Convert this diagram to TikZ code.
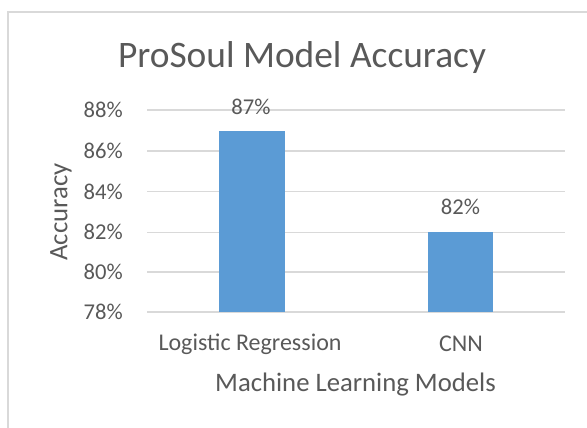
\documentclass[tikz,border=0pt]{standalone}
\usepackage{fontspec}
\setmainfont{Carlito}
\usetikzlibrary{positioning}
\definecolor{gridgray}{HTML}{D9D9D9}
\definecolor{textgray}{HTML}{595959}
\definecolor{barblue}{HTML}{5B9BD5}

\begin{document}
\begin{tikzpicture}[x=1pt,y=-1pt,
  every node/.append style={text=textgray,inner sep=0pt},
  font=\fontsize{22.6}{26}\selectfont]
  \tikzstyle{grid} = [draw=gridgray,line width=1.3pt]
  \tikzstyle{bar} = [fill=barblue,draw=none,minimum width=65.5pt,anchor=south]
  \tikzstyle{ticklabel} = [anchor=east]
  \tikzstyle{catlabel} = [font=\fontsize{24}{28}\selectfont]
  \tikzstyle{axistitle} = [font=\fontsize{26.7}{30}\selectfont]
  \useasboundingbox (0,0) rectangle (587,428);
  \draw[draw=gridgray,line width=1.5pt] (8,12) rectangle (600,440);
  \node (title) at (302,58) {\fontsize{37.4}{42}\selectfont ProSoul Model Accuracy};
  % grid and ticks
  \foreach \v/\y in {78/312,80/272,82/232.3,84/191.7,86/151,88/110} {
    \coordinate (g\v l) at (147,\y);
    \coordinate (g\v r) at (565,\y);
    \draw[grid] (g\v l) -- (g\v r);
    \node (t\v) [ticklabel] at (123,\y) {\v\%};
  }
  % bars
  \node (lrbar) [bar,minimum height=181pt] at (252,312) {};
  \node (cnnbar) [bar,minimum height=79.7pt] at (460.7,312) {};
  \node (lrval) at (251,107) {87\%};
  \node (cnnval) at (460.5,207) {82\%};
  \node (lrcat) [catlabel] at (250,344) {Logistic Regression};
  \node (cnncat) [catlabel] at (461,344) {CNN};
  \node (xtitle) [axistitle] at (355.5,385) {Machine Learning Models};
  \node (ytitle) [axistitle,rotate=90] at (61,212) {Accuracy};
\end{tikzpicture}
\end{document}
